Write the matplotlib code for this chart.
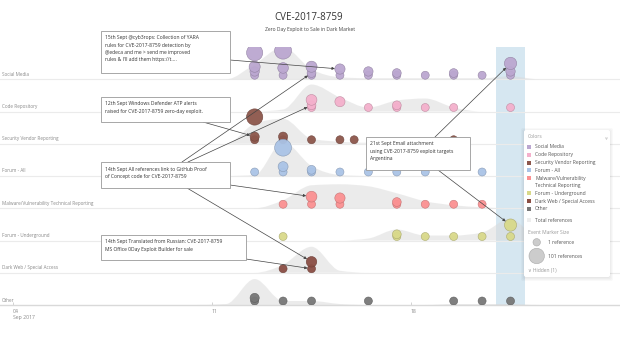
import matplotlib.pyplot as plt
import matplotlib.patches as mpatches
from matplotlib.path import Path
import numpy as np

plt.rcParams['font.family'] = ['Open Sans', 'DejaVu Sans']

W, H = 620, 346

title = 'CVE-2017-8759'
subtitle = 'Zero Day Exploit to Sale in Dark Market'

lanes = ['Social Media', 'Code Repository', 'Security Vendor Reporting', 'Forum - All',
         'Malware/Vulnerability Technical Reporting', 'Forum - Underground',
         'Dark Web / Special Access', 'Other']
legend_names = ['Social Media', 'Code Repository', 'Security Vendor Reporting', 'Forum - All',
                'Malware/Vulnerability\nTechnical Reporting', 'Forum - Underground',
                'Dark Web / Special Access', 'Other']
lane_colors = ['#bba7d0', '#f4b0cc', '#8c564b', '#aac3e6', '#fb9192', '#d9d98a', '#8a4e44', '#777777']

# events: (day of Sept 2017, number of references)
social_media = [(12.5, 1), (12.5, 4), (12.5, 16), (12.5, 106),
                (13.5, 1), (13.5, 12), (13.5, 126),
                (14.5, 1), (14.5, 2), (14.5, 16),
                (15.5, 1), (15.5, 9), (16.5, 1), (16.5, 4),
                (17.5, 1), (17.5, 2), (18.5, 1), (19.5, 1), (19.5, 2), (20.5, 1),
                (21.5, 1), (21.5, 4), (21.5, 30)]
code_repository = [(14.5, 1), (14.5, 2), (14.5, 13), (15.5, 8), (16.5, 1),
                   (17.5, 1), (17.5, 2), (18.5, 1), (19.5, 1), (21.5, 1)]
security_vendor = [(12.5, 1), (12.5, 3), (12.5, 108), (13.5, 1), (13.5, 3),
                   (14.5, 1), (15.5, 1), (16.0, 1), (19.5, 1)]
forum_all = [(12.5, 1), (13.5, 1), (13.5, 7), (13.5, 123), (14.5, 1), (14.5, 2),
             (15.5, 1), (16.5, 1), (17.5, 1), (18.5, 1), (20.5, 1)]
malware = [(13.5, 1), (14.5, 1), (14.5, 13), (15.5, 1), (15.5, 9), (17.5, 1), (17.5, 2),
           (18.5, 1), (19.5, 1), (20.5, 1)]
forum_underground = [(13.5, 1), (17.5, 1), (17.5, 2), (18.5, 1), (19.5, 1), (20.5, 1),
                     (21.5, 1), (21.5, 28)]
dark_web = [(13.5, 1), (14.5, 1), (14.5, 11)]
other = [(12.5, 1), (12.5, 3), (13.5, 1), (14.5, 1), (16.5, 1), (19.5, 1), (20.5, 1), (21.5, 1)]
events = [social_media, code_repository, security_vendor, forum_all,
          malware, forum_underground, dark_web, other]

# total references (grey areas), daily
density_days = [10.5, 11.5, 12.5, 13.5, 14.5, 15.5, 16.5, 17.5, 18.5, 19.5, 20.5, 21.5, 22.5, 23.5]
density = [
    [0, 0, 15, 32, 10, 2, 1, 1, 1, 1, 1, 3, 0, 0],
    [0, 0, 0, 2, 27, 14, 4, 11, 13, 4, 0, 0, 0, 0],
    [0, 0, 20, 25, 5, 2, 1, 1, 1, 0, 0, 0, 0, 0],
    [0, 0, 1, 34, 10, 1, 0, 0, 0, 0, 0, 0, 0, 0],
    [0, 0, 0, 8, 23, 24, 22, 15, 7, 3, 1, 0, 0, 0],
    [0, 0, 0, 0, 0, 0, 2, 11, 5, 5, 8, 22, 1, 0],
    [0, 0, 0, 8, 26, 2, 0, 0, 0, 0, 0, 0, 0, 0],
    [0, 1, 26, 4, 4, 1, 0, 0, 0, 1, 1, 1, 0, 0],
]

highlight = (21, 22)
tick_days = [4, 11, 18]
tick_labels = ['04\nSep 2017', '11', '18']

notes = [
    ('15th Sept @cyb3rops: Collection of YARA\nrules for CVE-2017-8759 detection by\n'
     '@edeca and me > send me improved\nrules & I\'ll add them https://t....',
     (101, 31, 129, 42), [((230, 60), 0, 15.5, 9)]),
    ('12th Sept Windows Defender ATP alerts\nraised for CVE-2017-8759 zero-day exploit.',
     (101, 97, 129, 25), [((203, 122), 2, 12.5, 3)]),
    ('14th Sept All references link to GitHub Proof\nof Concept code for CVE-2017-8759',
     (101, 162, 129, 26), [((182, 162), 0, 14.5, 2), ((188, 162), 1, 14.5, 2),
                           ((230, 185), 4, 14.5, 13), ((187, 188), 6, 14.5, 11)]),
    ('21st Sept Email attachment\nusing CVE-2017-8759 exploit targets\nArgentina',
     (366, 137, 104, 33), [((435, 137), 0, 21.5, 30), ((438, 170), 5, 21.5, 28)]),
    ('14th Sept Translated from Russian: CVE-2017-8759\nMS Office 0Day Exploit Builder for sale',
     (101, 235, 145, 25), [((246, 259), 6, 14.5, 1)]),
]

LH = 258 / 8.0  # lane height in px
PT = 72 / 100.0


def radius_px(n):
    return 4 + 4 * np.sqrt((n - 1) / 100.0)


def offset_px(n):
    return 4 + 22 * np.sqrt((n - 1) / 100.0)


def event_y(lane, n):
    return (7 - lane) + offset_px(n) / LH


def darker(c, f=0.8):
    r, g, b = plt.matplotlib.colors.to_rgb(c)
    return (r * f, g * f, b * f)


def monotone_area(xs, ys, base):
    xs = np.asarray(xs, float)
    ys = np.asarray(ys, float)
    h = np.diff(xs)
    s = np.diff(ys) / h
    n = len(xs)
    m = np.zeros(n)
    for k in range(1, n - 1):
        s0, s1 = s[k - 1], s[k]
        p = (s0 * h[k] + s1 * h[k - 1]) / (h[k - 1] + h[k])
        m[k] = (np.sign(s0) + np.sign(s1)) * min(abs(s0), abs(s1), 0.5 * abs(p))
    m[0] = (3 * s[0] - m[1]) / 2
    m[-1] = (3 * s[-1] - m[-2]) / 2
    verts = [(xs[0], base), (xs[0], base + ys[0])]
    codes = [Path.MOVETO, Path.LINETO]
    for k in range(n - 1):
        dx = h[k] / 3
        verts += [(xs[k] + dx, base + ys[k] + dx * m[k]),
                  (xs[k + 1] - dx, base + ys[k + 1] - dx * m[k + 1]),
                  (xs[k + 1], base + ys[k + 1])]
        codes += [Path.CURVE4] * 3
    verts += [(xs[-1], base), (xs[0], base)]
    codes += [Path.LINETO, Path.CLOSEPOLY]
    return Path(verts, codes)


fig = plt.figure(figsize=(W / 100, H / 100), dpi=100)
ax = fig.add_axes([0, 1 - 305 / H, 1, 258 / H])
ax.set_xlim(4 - 13 / 28.43, 4 + 607 / 28.43)
ax.set_ylim(0, 8)

ax.axvspan(*highlight, color='#d6e7f1', lw=0, zorder=0)

for i, name in enumerate(lanes):
    base = 7 - i
    if i < 7:
        ax.axhline(base, color='#ebebeb', lw=0.8, zorder=1)
    dens = np.array(density[i]) / LH
    ax.add_patch(mpatches.PathPatch(monotone_area(density_days, dens, base),
                                    facecolor='#d9d9d9', alpha=0.5, lw=0, zorder=1))
    ax.text(2 / W, base + 5 / LH, name, transform=ax.get_yaxis_transform(),
            fontsize=3.3, color='#888888', va='center', ha='left')
    days = [e[0] for e in events[i]]
    refs = [e[1] for e in events[i]]
    ys = [event_y(i, n) for n in refs]
    sizes = [(2 * radius_px(n) * PT) ** 2 for n in refs]
    ax.scatter(days, ys, s=sizes, color=lane_colors[i], alpha=0.95,
               edgecolors=[darker(lane_colors[i], 0.78)], linewidths=0.4, zorder=3)

ax.set_yticks([])
for side in ['top', 'left', 'right']:
    ax.spines[side].set_visible(False)
ax.spines['bottom'].set_color('#d9d9d9')
ax.spines['bottom'].set_linewidth(1.0)
ax.set_xticks(tick_days)
ax.set_xticklabels(tick_labels)
ax.tick_params(axis='x', direction='in', length=2.5, color='#cccccc', width=0.6,
               labelsize=3.7, labelcolor='#888888', pad=3)
for lbl in ax.get_xticklabels():
    lbl.set_ha('left')
    lbl.set_linespacing(1.1)

# arrows
for text, box, arrows in notes:
    for (sx, sy), lane, day, n in arrows:
        ax.annotate('', xy=(day, event_y(lane, n)), xycoords='data',
                    xytext=(sx, H - sy), textcoords='figure pixels',
                    arrowprops=dict(arrowstyle='-|>', color='#444444', lw=0.5,
                                    mutation_scale=4, shrinkA=0,
                                    shrinkB=radius_px(n) * PT),
                    annotation_clip=False, zorder=5)

# overlay in pixel coords
ov = fig.add_axes([0, 0, 1, 1], zorder=10)
ov.set_xlim(0, W)
ov.set_ylim(H, 0)
ov.axis('off')
ov.patch.set_alpha(0)

ov.text(309, 17.5, title, fontsize=7, color='#333333', ha='center', va='center')
ov.text(310, 30, subtitle, fontsize=3.6, color='#444444', ha='center', va='center')

for text, (bx, by, bw, bh), arrows in notes:
    ov.add_patch(mpatches.Rectangle((bx, by), bw, bh, facecolor='white',
                                    edgecolor='#999999', lw=0.6))
    ov.text(bx + 4, by + 4.5, text, fontsize=3.6, color='#333333', va='top', ha='left',
            linespacing=1.55)

# legend panel
lx, ly, lw_, lh_ = 524, 130, 86, 147
for k in range(4):
    ov.add_patch(mpatches.FancyBboxPatch((lx - k, ly - k + 1), lw_ + 2 * k, lh_ + 2 * k,
                                         boxstyle='round,pad=0,rounding_size=2',
                                         facecolor='black', alpha=0.025, lw=0))
ov.add_patch(mpatches.FancyBboxPatch((lx, ly), lw_, lh_, boxstyle='round,pad=0,rounding_size=2',
                                     facecolor='white', lw=0))
ov.text(528, 137, 'Colors', fontsize=3.6, color='#999999', va='center')
ov.text(605, 137, '\u00bb', fontsize=4, color='#999999', va='center', ha='center', rotation=-90)
item_y = [147, 154.7, 162.7, 170, 178, 193, 201, 209]
for name, c, y in zip(legend_names, lane_colors, item_y):
    ov.add_patch(mpatches.Rectangle((527, y - 2), 4, 4, facecolor=c, lw=0))
    if '\n' in name:
        ov.text(535, y + 3.85, name, fontsize=3.6, color='#555555', va='center',
                linespacing=1.5)
    else:
        ov.text(535, y, name, fontsize=3.6, color='#555555', va='center')
ov.add_patch(mpatches.Rectangle((527, 218), 4, 4, facecolor='#eeeeee', lw=0))
ov.text(535, 220, 'Total references', fontsize=3.6, color='#555555', va='center')
ov.text(528, 233, 'Event Marker Size', fontsize=3.6, color='#999999', va='center')
for n, y, lab in [(1, 242.3, '1 reference'), (101, 256, '101 references')]:
    ov.add_patch(mpatches.Circle((536.7, y), radius_px(n) - 0.3, facecolor='#cccccc',
                                 edgecolor='#aaaaaa', lw=0.4))
    ov.text(548, y, lab, fontsize=3.6, color='#555555', va='center')
ov.text(528, 270.7, '\u2228 Hidden (1)', fontsize=3.6, color='#999999', va='center')

fig.savefig('out.png', dpi=100)
